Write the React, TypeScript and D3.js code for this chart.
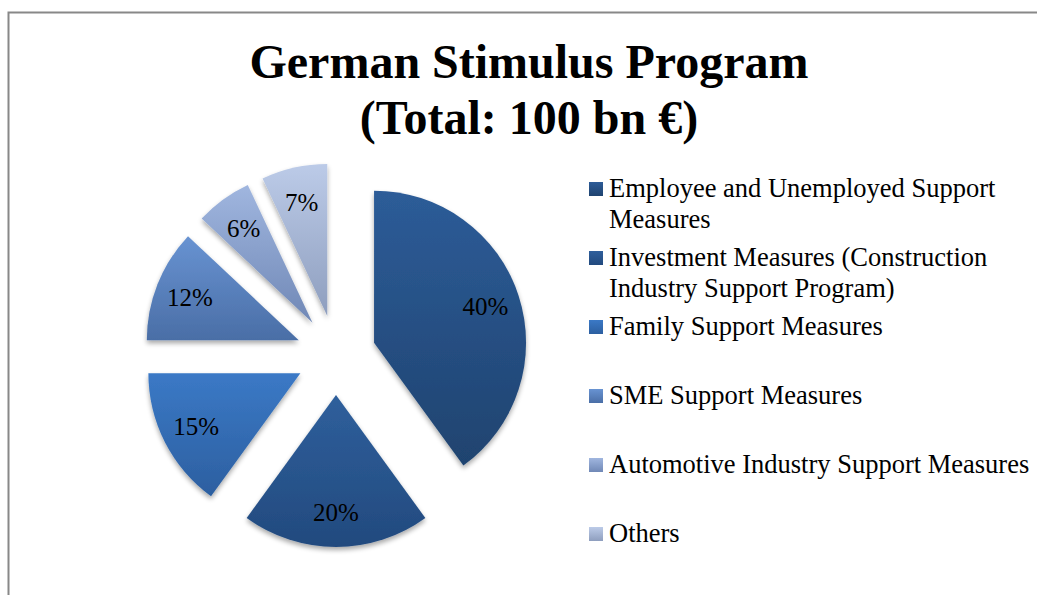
import React from "react";
import * as d3 from "d3";

const categories = [
  "Employee and Unemployed Support Measures",
  "Investment Measures (Construction Industry Support Program)",
  "Family Support Measures",
  "SME Support Measures",
  "Automotive Industry Support Measures",
  "Others",
];
const values = [40, 20, 15, 12, 6, 7];
const legendLines = [
  ["Employee and Unemployed Support", "Measures"],
  ["Investment Measures (Construction", "Industry Support Program)"],
  ["Family Support Measures"],
  ["SME Support Measures"],
  ["Automotive Industry Support Measures"],
  ["Others"],
];
const topColors = ["#2d5c98", "#2f5f9c", "#3b79c6", "#6893d2", "#a0b6df", "#bccbe8"];
const bottomColors = ["#1f436f", "#224a7e", "#2c5fa0", "#4a6ea6", "#7088b6", "#8e9ebe"];

const W = 1037;
const H = 595;
const cx = 336;
const cy = 355;
const R = 152;
const explode = 40;
const FONT = "'Liberation Serif', 'Times New Roman', serif";

export default function App() {
  const pie = d3.pie<number>().sort(null).value((d) => d).startAngle(0).endAngle(2 * Math.PI);
  const arcs = pie(values);
  const arc = d3.arc<d3.PieArcDatum<number>>().innerRadius(0).outerRadius(R);
  const labelArc = d3.arc<d3.PieArcDatum<number>>().innerRadius(R * 1.54).outerRadius(0);
  const legendY = [197, 266, 335, 404, 473, 542];
  const total = d3.sum(values);
  return (
    <svg width={W} height={H} style={{ position: "absolute", left: 0, top: 0 }}>
      <defs>
        {values.map((_, i) => (
          <linearGradient key={i} id={`g${i}`} x1="0" y1="0" x2="0" y2="1">
            <stop offset="0" stopColor={topColors[i]} />
            <stop offset="1" stopColor={bottomColors[i]} />
          </linearGradient>
        ))}
        <filter id="sh" x="-20%" y="-20%" width="140%" height="140%">
          <feGaussianBlur in="SourceAlpha" stdDeviation="2.5" />
          <feOffset dx="0" dy="3" result="b" />
          <feComponentTransfer>
            <feFuncA type="linear" slope="0.35" />
          </feComponentTransfer>
          <feMerge>
            <feMergeNode />
            <feMergeNode in="SourceGraphic" />
          </feMerge>
        </filter>
      </defs>
      <rect x={0} y={0} width={W} height={H} fill="#fff" />
      <rect x={8.5} y={12.5} width={W + 20} height={H + 20} fill="none" stroke="#888" strokeWidth={2} />
      <text x={529} y={78} textAnchor="middle" fontFamily={FONT} fontWeight="bold" fontSize={48}>
        German Stimulus Program
      </text>
      <text x={529} y={134} textAnchor="middle" fontFamily={FONT} fontWeight="bold" fontSize={48}>
        (Total: 100 bn €)
      </text>
      {arcs.map((a, i) => {
        const mid = (a.startAngle + a.endAngle) / 2;
        const dx = Math.sin(mid) * explode;
        const dy = -Math.cos(mid) * explode;
        const [lx, ly] = labelArc.centroid(a);
        return (
          <g key={i} transform={`translate(${cx + dx},${cy + dy})`}>
            <path d={arc(a) || ""} fill={`url(#g${i})`} filter="url(#sh)" />
            <text
              x={lx}
              y={ly + 9}
              textAnchor="middle"
              fontFamily={FONT}
              fontSize={25}
              fill="#000"
            >
              {`${Math.round((values[i] / total) * 100)}%`}
            </text>
          </g>
        );
      })}
      {categories.map((c, i) => (
        <g key={c}>
          <rect x={589} y={legendY[i] - 15} width={14} height={14} fill={`url(#g${i})`} />
          {legendLines[i].map((ln, j) => (
            <text
              key={j}
              x={609}
              y={legendY[i] + j * 30.5}
              fontFamily={FONT}
              fontSize={26.5}
              fill="#000"
            >
              {ln}
            </text>
          ))}
        </g>
      ))}
    </svg>
  );
}
